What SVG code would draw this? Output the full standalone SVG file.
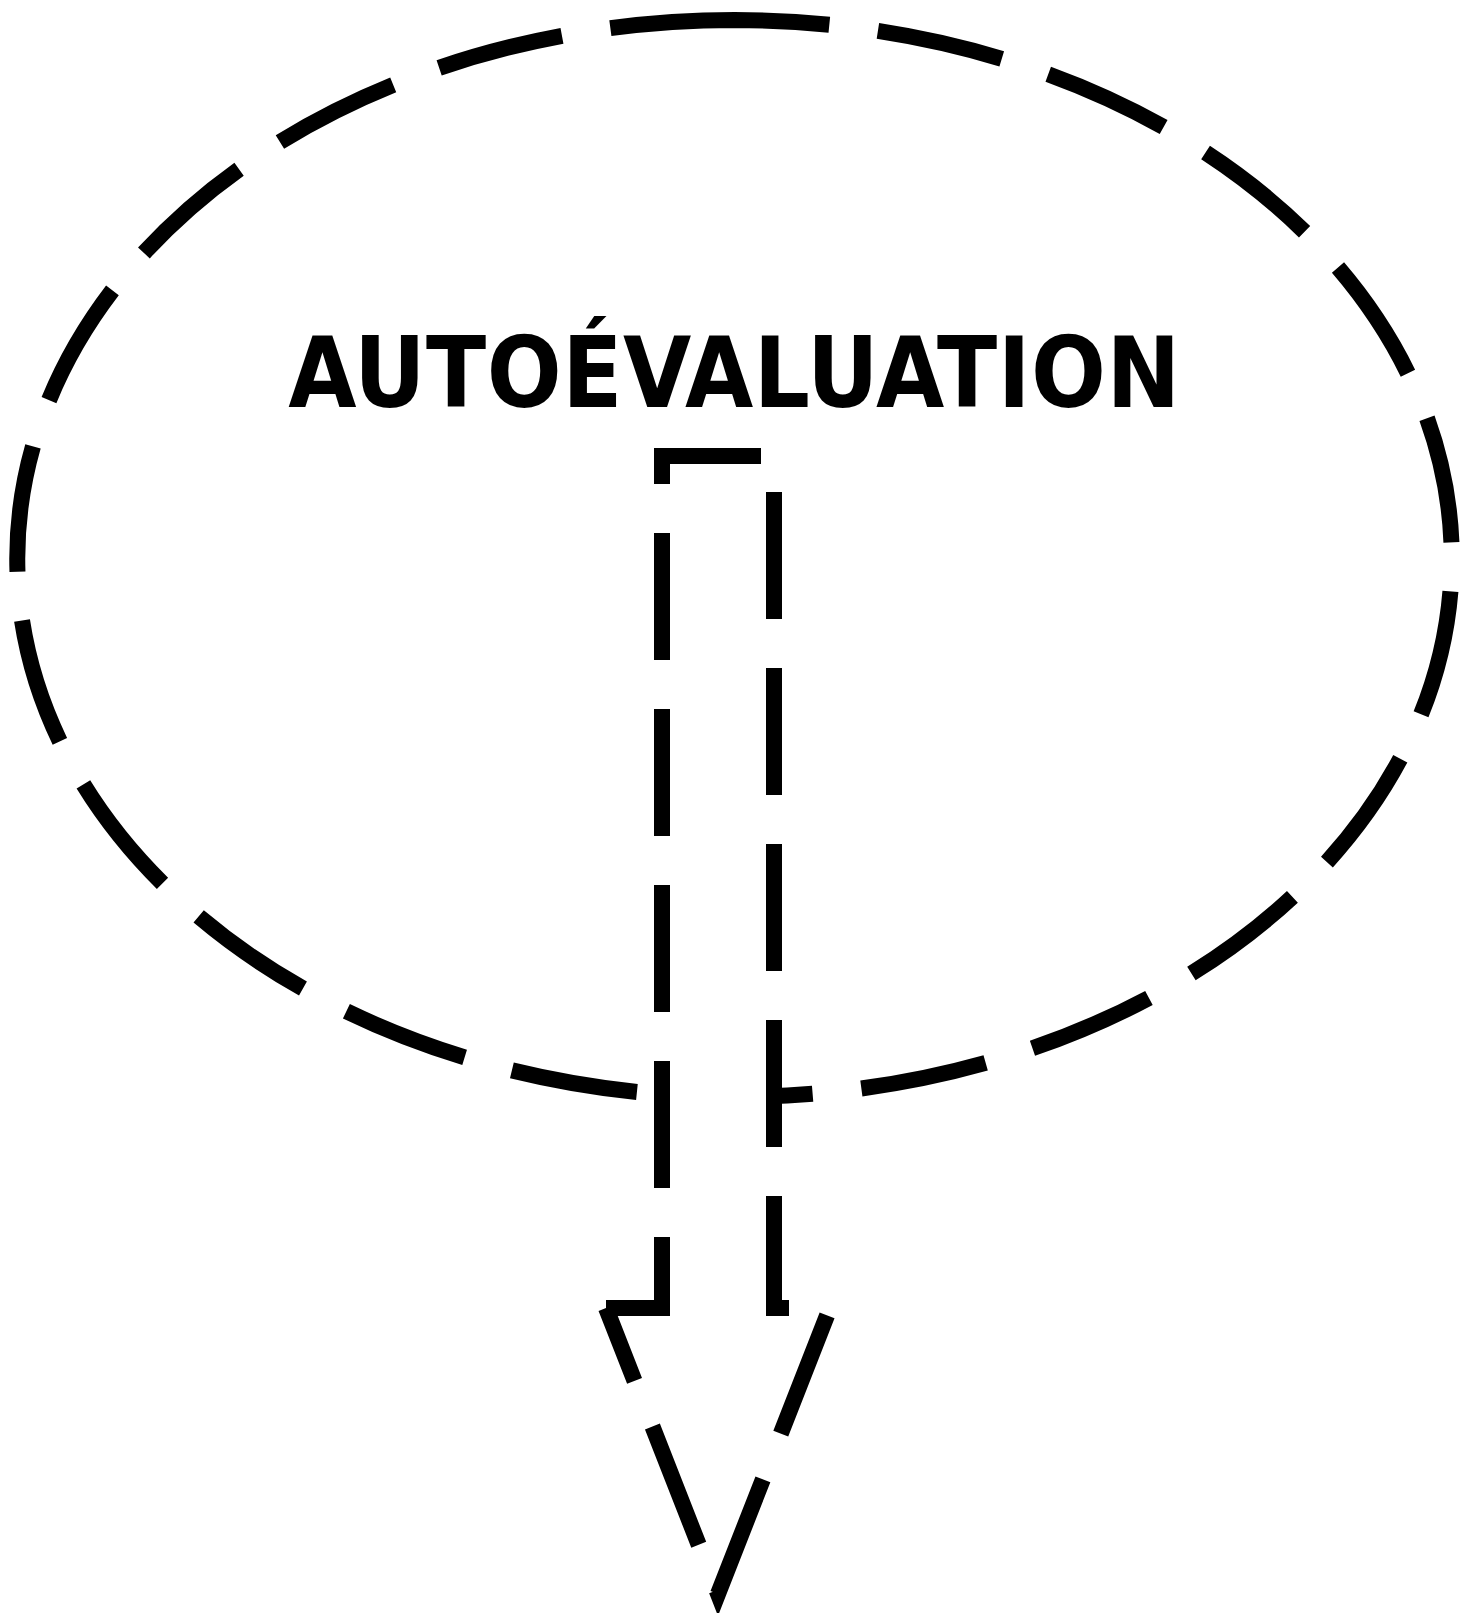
<svg xmlns="http://www.w3.org/2000/svg" width="1462" height="1613" viewBox="0 0 1462 1613">
<style>
.dash{fill:none;stroke:#000;stroke-width:16;stroke-dasharray:127 49;stroke-linejoin:miter;stroke-miterlimit:10}
.lbl{font-family:"DejaVu Sans Condensed","DejaVu Sans",sans-serif;font-stretch:condensed;font-weight:bold;font-size:98px;letter-spacing:0.5px;fill:#000}
</style>
<rect x="0" y="0" width="1462" height="1613" fill="#fff"/>
<g id="ellipse-node">
<path class="dash" style="stroke-dashoffset:32" d="M 734.5,20 A 717.5 538.5 0 0 1 734.5,1097 A 717.5 538.5 0 0 1 734.5,20"/>
<text class="lbl" x="734.5" y="407" text-anchor="middle">AUTOÉVALUATION</text>
</g>
<g id="connectors">
<path id="arrow" class="dash" style="fill:#fff" d="M 606,1308 L 662,1308 L 662,456 L 774,456 L 774,1308 L 830,1308 L 718,1594 L 606,1308"/>
</g>
</svg>
